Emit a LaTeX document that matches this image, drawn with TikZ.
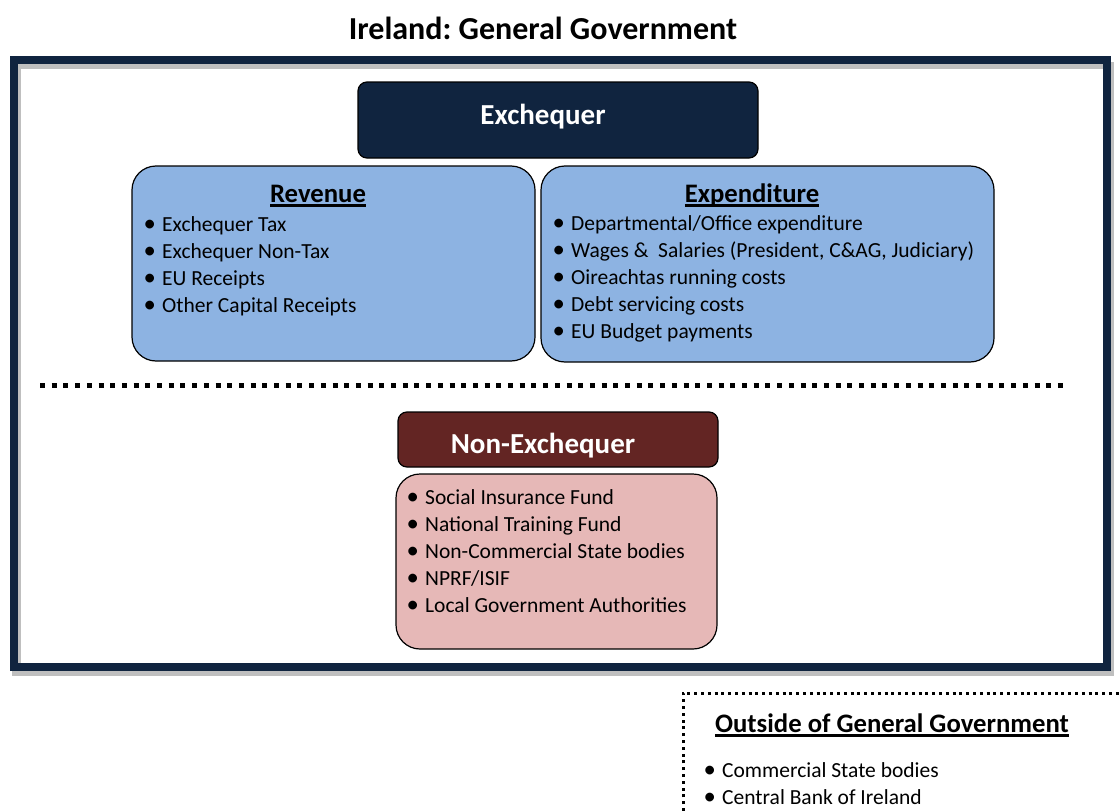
\documentclass[tikz,border=0pt]{standalone}
\usepackage{fontspec}
\setmainfont{Carlito}
\frenchspacing
\definecolor{navy}{HTML}{10243F}
\definecolor{revblue}{HTML}{8DB3E2}
\definecolor{darkred}{HTML}{632523}
\definecolor{pinkbody}{HTML}{E6B8B7}
\definecolor{shadowgray}{HTML}{BFBFBF}
\newcommand\itm[1]{\makebox[18.5pt][l]{\scalebox{1.15}{\textbullet}}#1}
\newcommand\myul[1]{\setbox0\hbox{#1}\leavevmode\rlap{\rule[-4.6pt]{\wd0}{2.6pt}}\box0}
\tikzset{
  headbox/.style={draw=black, line width=1.2pt, rounded corners=9pt, inner sep=0pt},
  bodybox/.style={draw=black, line width=1.2pt, rounded corners=24pt, inner sep=0pt},
  headtext/.style={text=white, font=\fontsize{29}{34}\selectfont\bfseries, inner sep=0pt},
  subtitle/.style={font=\fontsize{26.7}{32}\selectfont\bfseries, inner sep=0pt},
  listnode/.style={font=\fontsize{21.5}{27}\selectfont, align=left, inner sep=0pt, anchor=base west},
}
\begin{document}
\begin{tikzpicture}[x=1pt,y=-1pt]
\useasboundingbox (0,0) rectangle (1120,811);
% title
\node[font=\fontsize{32}{38}\selectfont\bfseries, inner sep=0pt] (title) at (543,28) {Ireland: General Government};
% frame with shadows
\fill[shadowgray] (12,671) rectangle (1114,676);
\fill[shadowgray] (1111,62) rectangle (1114,676);
\fill[shadowgray] (18,64) rectangle (1103,69);
\fill[shadowgray] (18,64) rectangle (21,663);
\draw[navy, line width=8pt] (14,60) rectangle (1107,667);
% Exchequer
\node[headbox, fill=navy, minimum width=400pt, minimum height=76pt] (exch) at (558,120) {};
\node[headtext] (exchT) at (543,117) {Exchequer};
% Revenue
\node[bodybox, fill=revblue, minimum width=403pt, minimum height=195pt] (rev) at (333.5,263.5) {};
\node[subtitle, anchor=base] (revT) at (318,202) {\myul{Revenue}};
\node[listnode] (revL) at (143.5,312) {\itm{Exchequer Tax}\\\itm{Exchequer Non-Tax}\\\itm{EU Receipts}\\\itm{Other Capital Receipts}};
% Expenditure
\node[bodybox, fill=revblue, minimum width=453pt, minimum height=196pt] (exp) at (767.5,264) {};
\node[subtitle, anchor=base] (expT) at (752,202) {\myul{Expenditure}};
\node[listnode] (expL) at (552.5,338) {\itm{Departmental/Office expenditure}\\\itm{Wages \&\ \ Salaries (President, C\&AG, Judiciary)}\\\itm{Oireachtas running costs}\\\itm{Debt servicing costs}\\\itm{EU Budget payments}};
% separator
\draw[line width=5pt, dash pattern=on 5pt off 6.7pt] (40,385) -- (1068,385);
% Non-Exchequer
\node[headbox, fill=darkred, minimum width=320pt, minimum height=55pt] (nonex) at (558,439.5) {};
\node[headtext] (nonexT) at (543,446) {Non-Exchequer};
\node[bodybox, fill=pinkbody, minimum width=321pt, minimum height=175pt] (nonexB) at (556.5,561.5) {};
\node[listnode] (nonexL) at (406.5,612) {\itm{Social Insurance Fund}\\\itm{National Training Fund}\\\itm{Non-Commercial State bodies}\\\itm{NPRF/ISIF}\\\itm{Local Government Authorities}};
% Outside of General Government
\coordinate (outTR) at (1120,693);
\coordinate (outTL) at (683,693);
\coordinate (outBL) at (683,811);
\draw[line width=3pt, dash pattern=on 3pt off 3.8pt] (outBL) -- (outTL) -- (outTR);
\node[subtitle, anchor=base] (outT) at (892,732) {\myul{Outside of General Government}};
\node[listnode] (outL) at (703.5,804) {\itm{Commercial State bodies}\\\itm{Central Bank of Ireland}};
\end{tikzpicture}
\end{document}
